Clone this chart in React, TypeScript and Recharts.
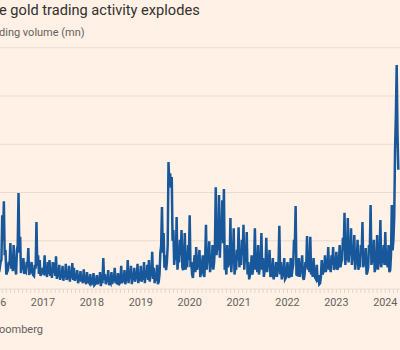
import React from "react";
import { LineChart, Line, XAxis, YAxis, CartesianGrid } from "recharts";

// Trading volume (mn): ~30 peak-side readings per year
const vol2016 = [0.64, 0.39, 0.77, 0.48, 0.56, 1.53, 1.82, 0.81, 0.35, 0.56, 0.95, 0.64, 0.91, 0.44, 0.81, 1.99, 1.08, 0.56, 0.64, 0.39, 0.56, 0.85, 0.35, 0.56, 0.29, 0.5, 1.39, 0.7, 0.6, 0.35];
const vol2017 = [0.44, 0.7, 0.35, 0.56, 0.6, 0.39, 0.56, 0.54, 0.68, 0.35, 0.5, 0.27, 0.48, 0.31, 0.52, 0.25, 0.48, 0.35, 0.54, 0.44, 0.27, 0.39, 0.19, 0.37, 0.23, 0.41, 0.17, 0.35, 0.15, 0.31];
const vol2018 = [0.12, 0.33, 0.1, 0.29, 0.15, 0.35, 0.21, 0.64, 0.31, 0.19, 0.39, 0.15, 0.35, 0.21, 0.44, 0.17, 0.33, 0.12, 0.48, 0.23, 0.39, 0.19, 0.6, 0.31, 0.48, 0.23, 0.44, 0.27, 0.52, 0.29];
const vol2019 = [0.48, 0.27, 0.56, 0.35, 0.5, 0.6, 0.35, 0.77, 0.44, 0.29, 0.5, 0.15, 0.75, 1.7, 1.16, 0.7, 0.54, 2.63, 2.4, 2.32, 1.22, 0.81, 1.49, 0.66, 1.02, 1.22, 0.39, 1.16, 0.56, 0.91];
const vol2020 = [1.53, 0.56, 0.23, 0.7, 0.87, 0.5, 0.81, 0.35, 0.7, 0.25, 1.33, 0.7, 0.99, 0.5, 0.91, 0.56, 2.11, 1.02, 1.95, 1.12, 1.84, 2.07, 0.5, 0.91, 0.56, 1.47, 0.64, 1.26, 0.44, 0.81];
const vol2021 = [1.28, 0.64, 1.02, 1.33, 0.81, 1.18, 0.56, 0.29, 0.7, 0.44, 1.26, 0.6, 0.91, 0.44, 1.16, 0.64, 0.39, 1.06, 0.56, 0.81, 0.33, 0.64, 0.29, 0.56, 0.39, 1.31, 0.56, 0.29, 0.64, 0.23];
const vol2022 = [0.56, 0.23, 0.64, 0.39, 1.02, 1.72, 0.29, 0.64, 0.39, 0.7, 0.19, 0.56, 1.1, 0.5, 1.08, 0.39, 0.64, 0.23, 0.5, 0.29, 0.12, 0.6, 0.35, 0.7, 0.44, 0.87, 0.5, 0.7, 0.87, 0.44];
const vol2023 = [0.77, 0.44, 0.91, 0.56, 1.06, 1.58, 0.81, 1.47, 0.91, 1.26, 0.7, 1.12, 0.6, 1.02, 0.5, 0.91, 1.39, 0.56, 0.85, 0.35, 0.91, 1.74, 0.64, 1.02, 0.44, 1.12, 0.56, 1.43, 0.64, 0.91];
const vol2024 = [1.18, 0.56, 0.91, 0.39, 1.74, 1.02, 2.88, 4.64, 2.47];

// In-between readings (mostly the lower edge of the noisy band)
const mid2016 = [0.39, 0.5, 0.35, 0.44, 0.6, 1.0, 0.7, 0.3, 0.39, 0.5, 0.42, 0.37, 0.48, 0.3, 0.9, 0.75, 0.33, 0.4, 0.31, 0.36, 0.45, 0.29, 0.38, 0.33, 0.27, 0.42, 0.48, 0.31, 0.27, 0.35];
const mid2017 = [0.29, 0.33, 0.25, 0.31, 0.27, 0.23, 0.33, 0.27, 0.21, 0.25, 0.19, 0.23, 0.17, 0.25, 0.19, 0.21, 0.15, 0.23, 0.19, 0.17, 0.21, 0.12, 0.19, 0.15, 0.12, 0.17, 0.1, 0.15, 0.12, 0.08];
const mid2018 = [0.15, 0.08, 0.12, 0.1, 0.15, 0.06, 0.12, 0.19, 0.1, 0.15, 0.08, 0.12, 0.1, 0.17, 0.12, 0.1, 0.08, 0.19, 0.12, 0.15, 0.1, 0.19, 0.12, 0.23, 0.1, 0.19, 0.15, 0.21, 0.12, 0.17];
const mid2019 = [0.15, 0.19, 0.12, 0.23, 0.19, 0.15, 0.27, 0.21, 0.12, 0.17, 0.1, 0.31, 0.9, 0.75, 0.44, 0.39, 0.9, 2.2, 2.1, 1.0, 0.5, 0.6, 0.4, 0.55, 0.7, 0.45, 0.6, 0.4, 0.45, 0.6];
const mid2020 = [0.45, 0.3, 0.5, 0.35, 0.4, 0.55, 0.25, 0.45, 0.3, 0.6, 0.4, 0.55, 0.35, 0.45, 0.4, 0.9, 0.7, 0.8, 0.65, 1.1, 0.95, 0.4, 0.3, 0.45, 0.5, 0.35, 0.55, 0.3, 0.4, 0.6];
const mid2021 = [0.45, 0.5, 0.7, 0.4, 0.55, 0.3, 0.2, 0.35, 0.3, 0.5, 0.4, 0.35, 0.3, 0.5, 0.4, 0.25, 0.45, 0.35, 0.5, 0.25, 0.3, 0.2, 0.35, 0.25, 0.5, 0.3, 0.2, 0.35, 0.2, 0.3];
const mid2022 = [0.3, 0.35, 0.25, 0.5, 0.9, 0.3, 0.35, 0.25, 0.45, 0.25, 0.3, 0.45, 0.4, 0.35, 0.3, 0.25, 0.3, 0.2, 0.15, 0.1, 0.25, 0.3, 0.4, 0.35, 0.45, 0.4, 0.35, 0.5, 0.4, 0.45];
const mid2023 = [0.4, 0.5, 0.45, 0.6, 0.8, 0.5, 0.6, 0.55, 0.7, 0.5, 0.6, 0.4, 0.55, 0.4, 0.45, 0.7, 0.45, 0.5, 0.3, 0.45, 0.8, 0.5, 0.55, 0.35, 0.5, 0.4, 0.7, 0.45, 0.55, 0.5];
const mid2024 = [0.5, 0.45, 0.35, 0.7, 0.8, 1.5, 3.6, 3.2];

const yearSeries = [vol2016, vol2017, vol2018, vol2019, vol2020, vol2021, vol2022, vol2023, vol2024];
const midSeries = [mid2016, mid2017, mid2018, mid2019, mid2020, mid2021, mid2022, mid2023, mid2024];
const firstYear = 2016;
const readingsPerYear = 30;

const yearLabels = [2016, 2017, 2018, 2019, 2020, 2021, 2022, 2023, 2024];
const gridValues = [0, 1, 2, 3, 4];

const xDomain: [number, number] = [2015.712, 2024.301];

const data = yearSeries.flatMap((arr, yi) =>
  arr.flatMap((v, i) => {
    const pts = [{ t: firstYear + yi + i / readingsPerYear, v }];
    const m = midSeries[yi][i];
    if (m !== undefined) pts.push({ t: firstYear + yi + (i + 0.5) / readingsPerYear, v: m });
    return pts;
  })
);

const monthTicks: number[] = [];
for (let y = 2015; y <= 2024; y++) {
  for (let m = 0; m < 12; m++) {
    const t = y + m / 12;
    if (t >= xDomain[0] && t <= xDomain[1]) monthTicks.push(t);
  }
}

const fmt = (v: number) => {
  const r = Math.round(v);
  return Math.abs(v - r) < 1e-6 && yearLabels.includes(r) ? String(r) : "";
};

const FONT = "Roboto, 'Noto Sans', sans-serif";

export default function App() {
  return (
    <div
      style={{
        position: "absolute",
        left: 0,
        top: 0,
        width: 400,
        height: 350,
        overflow: "hidden",
        background: "#FFF1E5",
      }}
    >
      <div style={{ position: "absolute", left: -20, top: 0 }}>
        <LineChart
          width={420}
          height={350}
          data={data}
          margin={{ top: 47.75, right: 0, bottom: 31, left: 0 }}
        >
          <CartesianGrid vertical={false} stroke="#E8DBCF" strokeWidth={1} />
          <XAxis
            dataKey="t"
            type="number"
            domain={xDomain}
            ticks={monthTicks}
            interval={0}
            tickFormatter={fmt}
            axisLine={false}
            tickLine={{ stroke: "#E2D5C9" }}
            tickSize={4}
            tickMargin={5}
            height={30}
            tick={{ fill: "#66605C", fontSize: 10.8, fontFamily: FONT }}
            allowDataOverflow
          />
          <YAxis hide type="number" domain={[0, 5]} ticks={gridValues} allowDataOverflow />
          <Line
            type="linear"
            dataKey="v"
            stroke="#18579A"
            strokeWidth={2.5}
            dot={false}
            isAnimationActive={false}
          />
        </LineChart>
      </div>
      <svg
        width={400}
        height={350}
        style={{ position: "absolute", left: 0, top: 0, pointerEvents: "none" }}
      >
        <text x={-1} y={15} fontFamily={FONT} fontSize={14.6} fill="#33302E">
          e gold trading activity explodes
        </text>
        <text x={-1} y={36} fontFamily={FONT} fontSize={11} fill="#66605C">
          ding volume (mn)
        </text>
        <text x={-1} y={333} fontFamily={FONT} fontSize={11} fill="#66605C">
          oomberg
        </text>
      </svg>
    </div>
  );
}
